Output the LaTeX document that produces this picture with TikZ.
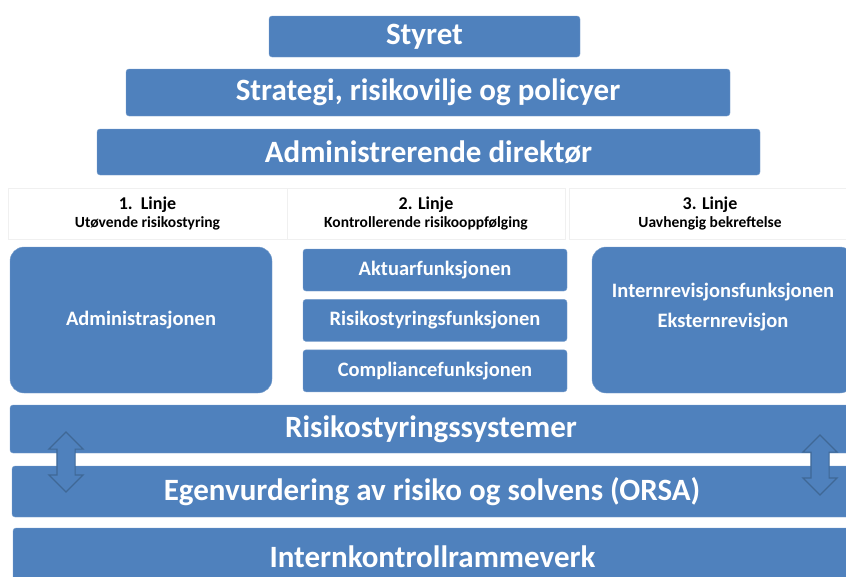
\documentclass[tikz,border=0pt]{standalone}
\usepackage{fontspec}
\setmainfont{Carlito}
\usetikzlibrary{positioning, shapes.arrows}
\definecolor{blaa}{HTML}{4F81BD}
\definecolor{blaakant}{HTML}{3F6896}

\begin{document}
\begin{tikzpicture}[x=1pt, y=-1pt,
    node distance=8pt,
    boks/.style={
        rectangle, rounded corners=3pt,
        draw=blaa!75!white, fill=blaa, text=white,
        font=\bfseries\fontsize{31}{36}\selectfont,
        inner sep=0pt
    },
    funksjon/.style={
        boks, minimum width=264pt, minimum height=42pt,
        font=\bfseries\fontsize{20.5}{24}\selectfont
    },
    linjeboks/.style={
        boks, rounded corners=14pt, align=center,
        font=\bfseries\fontsize{20.5}{30}\selectfont
    },
    linje/.style={
        rectangle, draw=black!6, fill=white, text=black,
        align=center, minimum height=51pt, inner sep=0pt
    },
    pil/.style={
        double arrow, shape border rotate=90,
        fill=blaa, draw=blaakant, line width=1.2pt,
        minimum height=60pt, inner sep=8.5pt,
        double arrow head extend=8pt
    }
]
\useasboundingbox (0,0) rectangle (846,576);

% toppen
\node[boks, minimum width=311pt, minimum height=41pt] (styret) at (424.5,36.5) {Styret};
\node[boks, minimum width=604pt, minimum height=47pt] (strategi) at (428,92.5) {Strategi, risikovilje og policyer};
\node[boks, minimum width=663pt, minimum height=46pt] (adm) at (428.5,152) {Administrerende direktør};

% de tre linjene
\node[linje, minimum width=279pt] (linje1) at (147.5,213.5)
    {\bfseries\fontsize{18}{20}\selectfont 1.\ \ Linje\\[4pt] \bfseries\fontsize{15.5}{20}\selectfont Utøvende risikostyring};
\node[linje, minimum width=278pt] (linje2) at (426,213.5)
    {\bfseries\fontsize{18}{20}\selectfont 2. Linje\\[4pt] \bfseries\fontsize{15.5}{20}\selectfont Kontrollerende risikooppfølging};
\node[linje, minimum width=281pt] (linje3) at (710,213.5)
    {\bfseries\fontsize{18}{20}\selectfont 3. Linje\\[4pt] \bfseries\fontsize{15.5}{20}\selectfont Uavhengig bekreftelse};

\node[linjeboks, minimum width=262pt, minimum height=146pt] (admin) at (141,320) {Administrasjonen};
\node[funksjon] (aktuar) at (435,270) {Aktuarfunksjonen};
\node[funksjon, below=of aktuar] (risfunk) {Risikostyringsfunksjonen};
\node[funksjon, below=of risfunk] (compl) {Compliancefunksjonen};
\node[linjeboks, minimum width=262pt, minimum height=146pt] (revisjon) at (723,320)
    {Internrevisjonsfunksjonen\\Eksternrevisjon\\ ~};

% bunnen
\node[boks, minimum width=842pt, minimum height=48pt] (rsys) at (431,429) {Risikostyringssystemer};
\node[boks, minimum width=840pt, minimum height=51pt] (orsa) at (432,491.5) {Egenvurdering av risiko og solvens (ORSA)};
\node[boks, minimum width=839pt, minimum height=58pt] (ikr) at (432.5,557) {Internkontrollrammeverk};

\node[pil] (pilv) at (66,462) {};
\node[pil] (pilh) at (820,465) {};
\end{tikzpicture}
\end{document}
